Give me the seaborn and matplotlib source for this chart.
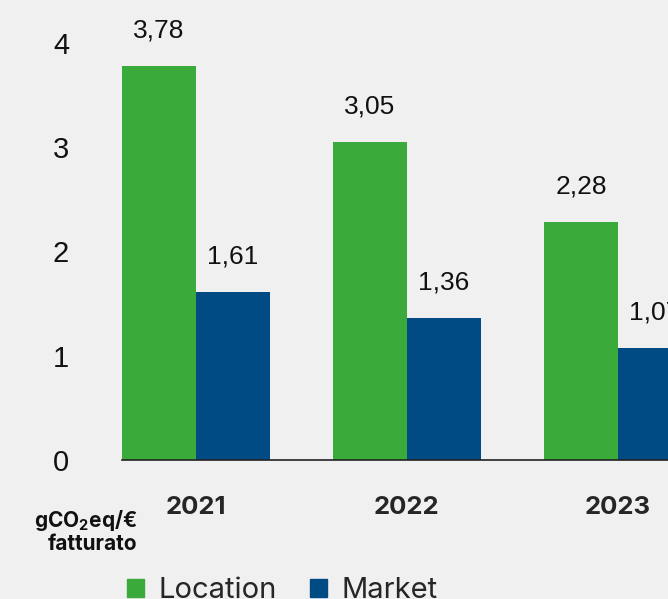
import pandas as pd
import seaborn as sb
import matplotlib.pyplot as plt
from matplotlib.patches import Patch

anni = ["2021", "2022", "2023"]
location = [3.78, 3.05, 2.28]
market = [1.61, 1.36, 1.07]
serie = ["Location", "Market"]
colori = {"Location": "#3aaa3a", "Market": "#004b84"}
yticks = [0, 1, 2, 3, 4]

df = pd.DataFrame({
    "anno": anni * 2,
    "valore": location + market,
    "tipo": ["Location"] * len(anni) + ["Market"] * len(anni),
})

sb.set_style("white")
plt.rcParams["font.family"] = ["Inter", "DejaVu Sans"]
plt.rcParams["mathtext.default"] = "regular"
bg = "#f0f0f0"

fig = plt.figure(figsize=(6.68, 5.99), dpi=100, facecolor=bg)
ax = fig.add_axes([122/668, (599-460)/599, 1-122/668, (460-43)/599])
ax.set_facecolor(bg)

sb.barplot(data=df, x="anno", y="valore", hue="tipo", hue_order=serie,
           palette=colori, width=0.7, saturation=1, legend=False,
           linewidth=0, edgecolor="none", ax=ax)

for cont in ax.containers:
    etichette = [f"{b.get_height():.2f}".replace(".", ",") for b in cont]
    ax.bar_label(cont, labels=etichette, padding=17, fontsize=19,
                 family="Liberation Sans", color="#111111", clip_on=False)

ax.set_ylim(0, 4)
ax.set_xlim(-0.35, (668-196)/211)
ax.set_yticks(yticks)
ax.set_yticklabels([str(t) for t in yticks], family="Liberation Sans", fontsize=21)
ax.tick_params(axis="y", length=0, pad=38, colors="#111111")
ax.tick_params(axis="x", length=0, pad=26)
for lab in ax.get_xticklabels():
    lab.set_fontweight("bold")
    lab.set_fontsize(18.5)
ax.set_xlabel("")
ax.set_ylabel("")
for s in ["left", "top", "right"]:
    ax.spines[s].set_visible(False)
ax.spines["bottom"].set_color("#222222")
ax.spines["bottom"].set_linewidth(1.2)

fig.text(137/668, (599-531)/599, "gCO$_2$eq/€\nfatturato", ha="right", va="center",
         fontsize=15, fontweight="bold", linespacing=1.05, color="#111111")

handles = [Patch(color=colori[s], label=s) for s in serie]
fig.legend(handles=handles, loc="center left", bbox_to_anchor=(127/668, 8/599),
           ncol=2, frameon=False, fontsize=21, handlelength=0.58, handleheight=0.58,
           handletextpad=0.5, columnspacing=1.15, borderpad=0, borderaxespad=0)

plt.savefig("out.png", dpi=100, facecolor=bg)
plt.close()
